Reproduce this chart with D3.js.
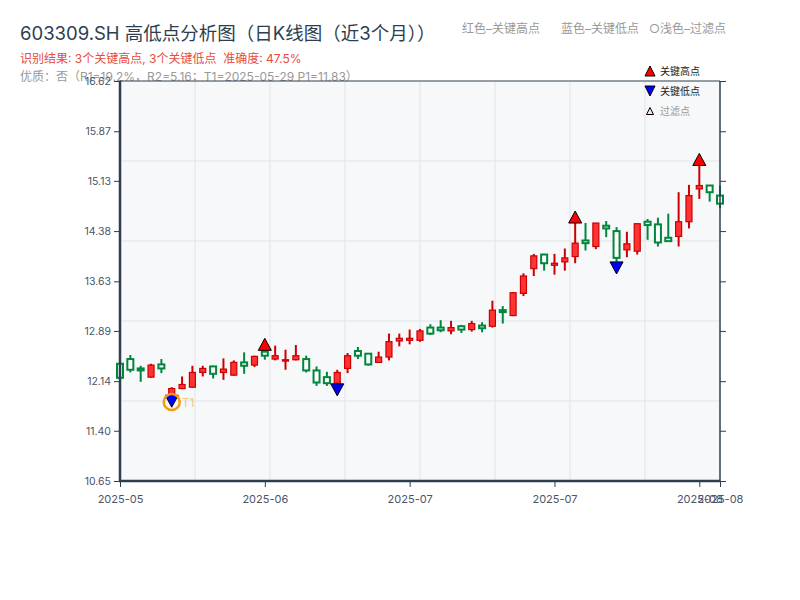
<!DOCTYPE html>
<html>
<head>
<meta charset="utf-8">
<script src="https://cdn.jsdelivr.net/npm/d3@7"></script>
<style>
    body { margin: 0; background: #fff; }
    svg { display: block; font-family: "Inter", "Noto Sans CJK SC", "Noto Sans", sans-serif; }
</style>
</head>
<body>
<svg id="chart" width="800" height="600"></svg>
<script>
/* ============================================
   603309.SH 日K线 高低点分析图
   ============================================ */

// Fechas de negociación (categorías)
const dates = [
    '2025-05-22', '2025-05-23', '2025-05-26', '2025-05-27', '2025-05-28', '2025-05-29', '2025-05-30',
    '2025-06-03', '2025-06-04', '2025-06-05', '2025-06-06', '2025-06-09', '2025-06-10', '2025-06-11',
    '2025-06-12', '2025-06-13', '2025-06-16', '2025-06-17', '2025-06-18', '2025-06-19', '2025-06-20',
    '2025-06-23', '2025-06-24', '2025-06-25', '2025-06-26', '2025-06-27', '2025-06-30', '2025-07-01',
    '2025-07-02', '2025-07-03', '2025-07-04', '2025-07-07', '2025-07-08', '2025-07-09', '2025-07-10',
    '2025-07-11', '2025-07-14', '2025-07-15', '2025-07-16', '2025-07-17', '2025-07-18', '2025-07-21',
    '2025-07-22', '2025-07-23', '2025-07-24', '2025-07-25', '2025-07-28', '2025-07-29', '2025-07-30',
    '2025-07-31', '2025-08-01', '2025-08-04', '2025-08-05', '2025-08-06', '2025-08-07', '2025-08-08',
    '2025-08-11', '2025-08-12', '2025-08-13'
];

const opens = [
    12.40, 12.47, 12.33, 12.20, 12.39, 11.94, 12.03, 12.05, 12.27, 12.36,
    12.27, 12.23, 12.42, 12.38, 12.58, 12.47, 12.44, 12.46, 12.47, 12.30,
    12.20, 12.11, 12.33, 12.59, 12.55, 12.42, 12.50, 12.74, 12.75, 12.75,
    12.94, 12.94, 12.89, 12.96, 12.91, 12.97, 12.96, 13.20, 13.12, 13.45,
    13.82, 14.03, 13.87, 13.92, 14.00, 14.24, 14.15, 14.46, 14.38, 14.10,
    14.08, 14.52, 14.48, 14.28, 14.30, 14.52, 15.01, 15.06, 14.91
];
const highs = [
    12.41, 12.53, 12.37, 12.40, 12.47, 12.05, 12.21, 12.37, 12.37, 12.37,
    12.48, 12.45, 12.57, 12.52, 12.60, 12.67, 12.61, 12.68, 12.52, 12.36,
    12.28, 12.31, 12.56, 12.65, 12.56, 12.58, 12.85, 12.85, 12.91, 12.92,
    12.99, 13.05, 13.04, 12.98, 13.04, 13.02, 13.34, 13.26, 13.47, 13.75,
    14.04, 14.04, 14.04, 14.12, 14.50, 14.50, 14.50, 14.53, 14.44, 14.37,
    14.49, 14.56, 14.58, 14.64, 14.96, 15.07, 15.36, 15.06, 15.06
];
const lows = [
    12.17, 12.27, 12.13, 12.19, 12.26, 11.93, 12.02, 12.04, 12.21, 12.18,
    12.16, 12.22, 12.25, 12.35, 12.46, 12.45, 12.31, 12.45, 12.27, 12.07,
    12.07, 12.10, 12.26, 12.47, 12.37, 12.42, 12.45, 12.66, 12.69, 12.73,
    12.83, 12.87, 12.84, 12.86, 12.88, 12.87, 12.94, 13.00, 13.11, 13.41,
    13.71, 13.79, 13.73, 13.79, 13.90, 14.09, 14.11, 14.29, 13.92, 13.99,
    14.03, 14.25, 14.15, 14.22, 14.15, 14.42, 14.86, 14.82, 14.72
];
const closes = [
    12.19, 12.31, 12.30, 12.38, 12.33, 12.03, 12.09, 12.27, 12.33, 12.25,
    12.32, 12.42, 12.37, 12.51, 12.52, 12.52, 12.46, 12.52, 12.30, 12.12,
    12.11, 12.27, 12.52, 12.52, 12.39, 12.50, 12.73, 12.78, 12.78, 12.89,
    12.85, 12.90, 12.94, 12.91, 13.00, 12.93, 13.20, 13.17, 13.46, 13.71,
    14.01, 13.90, 13.90, 13.98, 14.20, 14.20, 14.50, 14.42, 13.98, 14.19,
    14.49, 14.47, 14.21, 14.23, 14.52, 14.91, 15.06, 14.96, 14.79
];

// Puntos clave
const keyHighIdx = [14, 44, 56];
const keyLowIdx = [5, 21, 48];
const t1Index = 5;
const t1Price = 11.83;

// Ejes
const yDomain = [10.65, 16.62];
const yTicks = [10.65, 11.40, 12.14, 12.89, 13.63, 14.38, 15.13, 15.87, 16.62];
const xTickIdx = [0, 14, 28, 42, 56, 58];

const svg = d3.select('#chart');
const plot = { left: 120, right: 720, top: 81, bottom: 481 };

const x = d3.scaleLinear().domain([0, dates.length - 1]).range([plot.left, plot.right]);
const y = d3.scaleLinear().domain(yDomain).range([plot.bottom, plot.top]);

// Cabecera
svg.append('text').attr('x', 20).attr('y', 40)
    .attr('font-size', 18.5).attr('fill', '#2c3e50')
    .text('603309.SH 高低点分析图（日K线图（近3个月））');
svg.append('text').attr('x', 20).attr('y', 63)
    .attr('font-size', 12).attr('fill', '#e74c3c')
    .attr('xml:space', 'preserve')
    .text('识别结果: 3个关键高点, 3个关键低点  准确度: 47.5%');
svg.append('text').attr('x', 20).attr('y', 81)
    .attr('font-size', 12).attr('fill', '#999')
    .text('优质：否（R1=19.2%，R2=5.16；T1=2025-05-29 P1=11.83）');

[['红色–关键高点', 462], ['蓝色–关键低点', 561], ['○浅色–过滤点', 649]].forEach(([t, px]) => {
    svg.append('text').attr('x', px).attr('y', 33)
        .attr('font-size', 12).attr('fill', '#999').text(t);
});

// Fondo del área de trazado
svg.append('rect')
    .attr('x', plot.left).attr('y', plot.top)
    .attr('width', plot.right - plot.left).attr('height', plot.bottom - plot.top)
    .attr('fill', '#f6f8fa');

// Rejilla
const grid = svg.append('g').attr('stroke', '#e1e4e8').attr('stroke-width', 1);
d3.range(1, 8).forEach(k => {
    const gx = x(k * (dates.length - 1) / 8);
    grid.append('line').attr('x1', gx).attr('x2', gx).attr('y1', plot.top).attr('y2', plot.bottom);
});
d3.range(1, 5).forEach(k => {
    const gy = y(yDomain[0] + k * (yDomain[1] - yDomain[0]) / 5);
    grid.append('line').attr('x1', plot.left).attr('x2', plot.right).attr('y1', gy).attr('y2', gy);
});

// Velas
const candles = dates.map((d, i) => ({ i, o: opens[i], h: highs[i], l: lows[i], c: closes[i] }));
const up = d => d.c >= d.o;
const bodyW = 6;

const cg = svg.append('g');
cg.selectAll('.wick').data(candles).enter().append('line')
    .attr('class', 'wick')
    .attr('x1', d => x(d.i)).attr('x2', d => x(d.i))
    .attr('y1', d => y(d.h)).attr('y2', d => y(d.l))
    .attr('stroke', d => up(d) ? '#cc0000' : '#00873c')
    .attr('stroke-width', 2);

cg.selectAll('.body').data(candles).enter().append('rect')
    .attr('class', 'body')
    .attr('x', d => x(d.i) - bodyW / 2)
    .attr('y', d => y(Math.max(d.o, d.c)))
    .attr('width', bodyW)
    .attr('height', d => Math.max(1, Math.abs(y(d.o) - y(d.c))))
    .attr('fill', d => up(d) ? '#ff3333' : '#ffffff')
    .attr('stroke', d => up(d) ? '#cc0000' : '#00873c')
    .attr('stroke-width', d => up(d) ? 1.2 : 2);

// Marcadores de puntos clave
const triUp = 'M0,0 L-6.5,0 L0,-12 L6.5,0 Z';
const triDown = 'M0,0 L-6.5,0 L0,12 L6.5,0 Z';

svg.append('g').selectAll('path').data(keyHighIdx).enter().append('path')
    .attr('d', triUp)
    .attr('transform', i => `translate(${x(i)},${y(highs[i])})`)
    .attr('fill', '#ff0000').attr('stroke', '#000').attr('stroke-width', 1);

svg.append('g').selectAll('path').data(keyLowIdx).enter().append('path')
    .attr('d', triDown)
    .attr('transform', i => `translate(${x(i)},${y(lows[i])})`)
    .attr('fill', '#0000ff').attr('stroke', '#000').attr('stroke-width', 1);

// Marca T1
svg.append('circle')
    .attr('cx', x(t1Index)).attr('cy', y(t1Price)).attr('r', 8)
    .attr('fill', 'none').attr('stroke', '#f39c12').attr('stroke-width', 2.5);
svg.append('text')
    .attr('x', x(t1Index) + 10).attr('y', y(t1Price) + 5)
    .attr('font-size', 12).attr('fill', '#f39c12').attr('fill-opacity', 0.55)
    .text('T1');

// Ejes
const axisColor = '#2c3e50';
const yAxis = svg.append('g').attr('transform', `translate(${plot.left},0)`)
    .call(d3.axisLeft(y).tickValues(yTicks).tickFormat(d3.format('.2f')).tickSize(6).tickPadding(3));
const yAxisR = svg.append('g').attr('transform', `translate(${plot.right},0)`)
    .call(d3.axisRight(y).tickValues(yTicks).tickFormat('').tickSize(6));
const xAxis = svg.append('g').attr('transform', `translate(0,${plot.bottom})`)
    .call(d3.axisBottom(x).tickValues(xTickIdx).tickFormat(i => dates[i].slice(0, 7)).tickSize(6).tickPadding(8));

[yAxis, yAxisR, xAxis].forEach(a => {
    a.select('.domain').remove();
    a.selectAll('line').attr('stroke', axisColor);
    a.selectAll('text').attr('fill', '#4a5568').attr('font-family', '"Inter", "Noto Sans", sans-serif');
});
yAxis.selectAll('text').attr('font-size', 10.5);
xAxis.selectAll('text').attr('font-size', 11);

// Bordes
const spines = svg.append('g').attr('stroke', axisColor);
spines.append('line').attr('x1', plot.left).attr('x2', plot.right).attr('y1', plot.top).attr('y2', plot.top).attr('stroke-width', 1);
spines.append('line').attr('x1', plot.right).attr('x2', plot.right).attr('y1', plot.top).attr('y2', plot.bottom).attr('stroke-width', 1.5);
spines.append('line').attr('x1', plot.left).attr('x2', plot.left).attr('y1', plot.top).attr('y2', plot.bottom + 1).attr('stroke-width', 2.5);
spines.append('line').attr('x1', plot.left - 1).attr('x2', plot.right).attr('y1', plot.bottom).attr('y2', plot.bottom).attr('stroke-width', 2.5);

// Leyenda
const legend = svg.append('g').attr('transform', 'translate(650,0)');
const legendItems = [
    { label: '关键高点', path: 'M0,5 L-5,5 L0,-5 L5,5 Z', fill: '#ff0000', color: '#222', y: 71 },
    { label: '关键低点', path: 'M0,-5 L-5,-5 L0,5 L5,-5 Z', fill: '#0000ff', color: '#222', y: 91 },
    { label: '过滤点', path: 'M0,3.5 L-3.5,3.5 L0,-3.5 L3.5,3.5 Z', fill: '#ffdede', color: '#999', y: 111 }
];
legendItems.forEach(it => {
    legend.append('path').attr('d', it.path)
        .attr('transform', `translate(0,${it.y})`)
        .attr('fill', it.fill).attr('stroke', '#000').attr('stroke-width', 1);
    legend.append('text').attr('x', 10).attr('y', it.y + 4)
        .attr('font-size', 10).attr('fill', it.color)
        .attr('font-family', '"Noto Sans CJK SC", sans-serif')
        .text(it.label);
});
</script>
</body>
</html>
